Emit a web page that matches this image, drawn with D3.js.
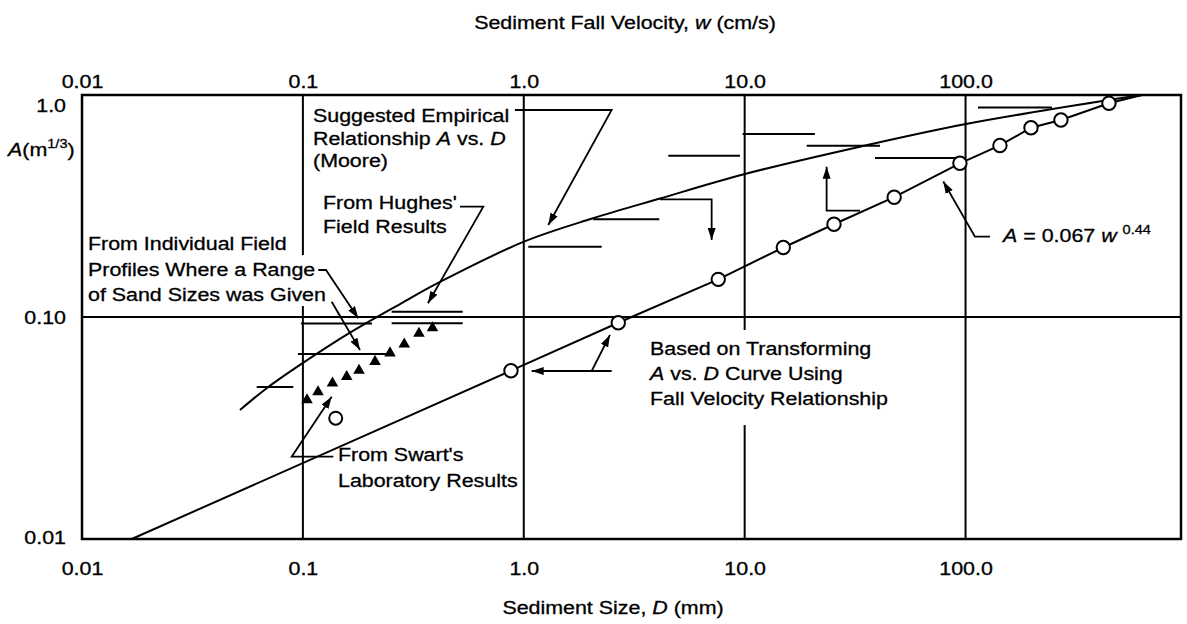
<!DOCTYPE html>
<html>
<head>
<meta charset="utf-8">
<script src="https://cdn.jsdelivr.net/npm/d3@7"></script>
<style>
  html, body { margin: 0; padding: 0; background: #fff; }
  svg text { font-family: "Liberation Sans", Arial, Helvetica, sans-serif; fill: #000; stroke: #000; stroke-width: 0.3px; white-space: pre; }
</style>
</head>
<body>
<svg id="chart" width="1187" height="624"></svg>
<script>
// ---------- Axis ticks ----------
const sizeTicks = [0.01, 0.1, 1, 10, 100];
const sizeTickLabels = ["0.01", "0.1", "1.0", "10.0", "100.0"];
const velocityTicks = [0.01, 0.1, 1, 10, 100];
const velocityTickLabels = ["0.01", "0.1", "1.0", "10.0", "100.0"];
const aTicks = [0.01, 0.1, 1];
const aTickLabels = ["0.01", "0.10", "1.0"];

// ---------- Suggested empirical relationship A vs. D (Moore) ----------
const mooreD = [0.0519, 0.0688, 0.1001, 0.1634, 0.2752, 0.4175, 1.002, 2.057, 4.136, 10.03, 33.27, 100.4, 445.8, 629];
const mooreA = [0.0381, 0.0479, 0.0621, 0.0850, 0.1144, 0.1438, 0.2184, 0.2783, 0.3418, 0.4407, 0.5850, 0.7401, 0.9495, 1.0];

// ---------- A vs. D transformed with the fall velocity relationship ----------
const transformD = [0.875, 2.678, 7.595, 14.96, 25.37, 47.52, 94.3, 143.1, 197.8, 270.3, 445.8];
const transformA = [0.0573, 0.0942, 0.1478, 0.2056, 0.2616, 0.3464, 0.4924, 0.5924, 0.712, 0.772, 0.9176];
const transformStartD = 0.0168, transformStartA = 0.01;
const transformEndD = 629, transformEndA = 1.0;

// ---------- Swart's laboratory results ----------
const swartD = [0.1044, 0.1171, 0.1361, 0.1579, 0.1795, 0.2121, 0.2480, 0.2877, 0.3354, 0.3862];
const swartA = [0.0423, 0.0460, 0.0504, 0.0538, 0.0574, 0.0630, 0.0688, 0.0755, 0.0843, 0.0892];
const singleD = [0.1408];
const singleA = [0.0350];

// ---------- Individual field profiles (range of sand sizes) ----------
const profileLoD = [0.0618, 0.0950, 0.0980, 1.048, 2.063, 4.511, 9.79, 19.09, 38.9, 113.8];
const profileHiD = [0.0905, 0.2403, 0.2055, 2.253, 4.106, 9.52, 20.8, 40.98, 94.3, 246.1];
const profileA   = [0.0484, 0.0681, 0.0935, 0.2074, 0.2755, 0.5328, 0.6674, 0.5909, 0.5203, 0.8784];

// ---------- Hughes' field results ----------
const hughesLoD = [0.2523, 0.2523];
const hughesHiD = [0.529, 0.529];
const hughesA   = [0.1056, 0.0937];

// ---------- Leader lines (D, A); the last point carries the arrowhead ----------
const mooreLeader      = [[0.912, 0.856], [2.50, 0.856], [1.291, 0.2597]];
const hughesLeader     = [[0.5143, 0.3139], [0.6557, 0.3139], [0.3684, 0.1153]];
const profileLeaderA   = [[0.1174, 0.1628], [0.1272, 0.1628], [0.1781, 0.0987]];
const profileLeaderB   = [[0.1350, 0.1172], [0.1814, 0.0710]];
const swartLeader      = [[0.1373, 0.02348], [0.0890, 0.02348], [0.1350, 0.04375]];
const transformLeaderA = [[2.50, 0.05711], [1.086, 0.05711]];
const transformLeaderB = [[2.03, 0.05711], [2.456, 0.0830]];
const formulaLeader    = [[128.9, 0.2300], [110.3, 0.2300], [79.3, 0.4077]];
const stepDown         = [[4.136, 0.3390], [7.089, 0.3390], [7.089, 0.2222]];
const stepUp           = [[33.27, 0.3012], [23.50, 0.3012], [23.50, 0.4753]];

// ---------- Grid lines (broken where labels sit) ----------
const gridVD    = [0.1, 0.1, 1, 10, 10, 100];
const gridVTopA = [1, 0.112, 1, 1, 0.0326, 1];
const gridVBotA = [0.19, 0.01, 0.01, 0.0874, 0.01, 0.01];
const gridHA    = [0.1];

// ---------- Layout ----------
const FS = 18, SX = 1.19;
const svg = d3.select("#chart");
const plotLeft = 82, plotRight = 1181, plotTop = 95, plotBottom = 539;

const x = d3.scaleLog().domain([0.01, 945]).range([plotLeft, plotRight]);
const w = d3.scaleLog().domain([0.01, 945]).range([plotLeft, plotRight]);
const y = d3.scaleLog().domain([0.01, 1]).range([plotBottom, plotTop]);

const defs = svg.append("defs");
defs.append("marker")
  .attr("id", "arrow").attr("markerUnits", "userSpaceOnUse")
  .attr("markerWidth", 13).attr("markerHeight", 9)
  .attr("refX", 12).attr("refY", 4.5).attr("orient", "auto")
  .append("path").attr("d", "M0,0.5 L12,4.5 L0,8.5 Z").attr("fill", "#000");

// grid
const grid = svg.append("g").attr("stroke", "#000").attr("stroke-width", 2);
grid.selectAll("line.v").data(gridVD).join("line").attr("class", "v")
  .attr("x1", d => x(d)).attr("x2", d => x(d))
  .attr("y1", (d, i) => y(gridVTopA[i])).attr("y2", (d, i) => y(gridVBotA[i]));
grid.selectAll("line.h").data(gridHA).join("line").attr("class", "h")
  .attr("x1", plotLeft).attr("x2", plotRight)
  .attr("y1", d => y(d)).attr("y2", d => y(d));

// frame
svg.append("rect").attr("x", plotLeft).attr("y", plotTop)
  .attr("width", plotRight - plotLeft).attr("height", plotBottom - plotTop)
  .attr("fill", "none").attr("stroke", "#000").attr("stroke-width", 2.5);

// axes
function styleAxis(g) {
  g.select(".domain").remove();
  g.selectAll(".tick line").remove();
  g.attr("font-family", null).attr("font-size", null);
  g.selectAll("text").style("font-size", FS + "px").attr("fill", "#000");
}
const bottomAxis = svg.append("g").attr("transform", `translate(0,${plotBottom})`)
  .call(d3.axisBottom(x).tickValues(sizeTicks).tickSize(0)
    .tickFormat((d, i) => sizeTickLabels[i]));
styleAxis(bottomAxis);
bottomAxis.selectAll("text").attr("y", 36).attr("dy", 0).attr("transform", `scale(${SX},1)`);

const topAxis = svg.append("g").attr("transform", `translate(0,${plotTop})`)
  .call(d3.axisTop(w).tickValues(velocityTicks).tickSize(0)
    .tickFormat((d, i) => velocityTickLabels[i]));
styleAxis(topAxis);
topAxis.selectAll("text").attr("y", -7).attr("dy", 0).attr("transform", `scale(${SX},1)`);

const leftAxis = svg.append("g").attr("transform", `translate(${plotLeft},0)`)
  .call(d3.axisLeft(y).tickValues(aTicks).tickSize(0)
    .tickFormat((d, i) => aTickLabels[i]));
styleAxis(leftAxis);
leftAxis.selectAll("text").attr("x", 0).attr("dy", 0)
  .attr("y", d => d === 1 ? 16.5 : (d === 0.1 ? 6.5 : 4.5))
  .attr("transform", `translate(-16,0) scale(${SX},1)`);

// text helper: segments of {t, i (italic), sup (superscript)}
function label(px, py, segs, anchor, size) {
  const fs = size || FS;
  const t = svg.append("text")
    .attr("transform", `translate(${px},${py}) scale(${SX},1)`)
    .attr("text-anchor", anchor || "start")
    .style("font-size", fs + "px");
  let raised = false;
  segs.forEach(s => {
    const ts = t.append("tspan").text(s.t);
    if (s.i) ts.style("font-style", "italic");
    if (s.sup && !raised) { ts.attr("dy", -8).style("font-size", (fs * 0.68) + "px"); raised = true; }
    else if (!s.sup && raised) { ts.attr("dy", 8); raised = false; }
  });
  return t;
}

// axis titles
label(625, 28.5, [{t: "Sediment Fall Velocity, "}, {t: "w", i: true}, {t: " (cm/s)"}], "middle");
label(613, 614, [{t: "Sediment Size, "}, {t: "D", i: true}, {t: " (mm)"}], "middle");
label(8, 156, [{t: "A", i: true}, {t: "(m"}, {t: "1/3", sup: true}, {t: ")"}], "start");

// curves
const mooreCurve = mooreD.map((d, i) => [d, mooreA[i]]);
svg.append("path").datum(mooreCurve)
  .attr("d", d3.line().x(d => x(d[0])).y(d => y(d[1])).curve(d3.curveCatmullRom.alpha(0.5)))
  .attr("fill", "none").attr("stroke", "#000").attr("stroke-width", 2);

const transformLine = [[transformStartD, transformStartA]]
  .concat(transformD.map((d, i) => [d, transformA[i]]))
  .concat([[transformEndD, transformEndA]]);
svg.append("path").datum(transformLine)
  .attr("d", d3.line().x(d => x(d[0])).y(d => y(d[1])))
  .attr("fill", "none").attr("stroke", "#000").attr("stroke-width", 2);

// field range segments
const segs = svg.append("g").attr("stroke", "#000").attr("stroke-width", 2);
segs.selectAll("line.p").data(profileA).join("line").attr("class", "p")
  .attr("x1", (d, i) => x(profileLoD[i])).attr("x2", (d, i) => x(profileHiD[i]))
  .attr("y1", d => y(d)).attr("y2", d => y(d));
segs.selectAll("line.hg").data(hughesA).join("line").attr("class", "hg")
  .attr("x1", (d, i) => x(hughesLoD[i])).attr("x2", (d, i) => x(hughesHiD[i]))
  .attr("y1", d => y(d)).attr("y2", d => y(d));

// leader lines
const leaders = [mooreLeader, hughesLeader, profileLeaderA, profileLeaderB, swartLeader,
  transformLeaderA, transformLeaderB, formulaLeader, stepDown, stepUp];
const plain = d3.line().x(d => x(d[0])).y(d => y(d[1]));
leaders.forEach(pts => {
  svg.append("path").attr("d", plain(pts))
    .attr("fill", "none").attr("stroke", "#000").attr("stroke-width", 1.8)
    .attr("marker-end", "url(#arrow)");
});

// markers
svg.append("g").selectAll("path").data(swartD).join("path")
  .attr("transform", (d, i) => `translate(${x(d)},${y(swartA[i])})`)
  .attr("d", d3.symbol().type(d3.symbolTriangle).size(58))
  .attr("fill", "#000");

svg.append("g").selectAll("circle").data(transformD).join("circle")
  .attr("cx", d => x(d)).attr("cy", (d, i) => y(transformA[i])).attr("r", 6.7)
  .attr("fill", "#fff").attr("stroke", "#000").attr("stroke-width", 2);

svg.append("g").selectAll("circle").data(singleD).join("circle")
  .attr("cx", d => x(d)).attr("cy", (d, i) => y(singleA[i])).attr("r", 6.5)
  .attr("fill", "#fff").attr("stroke", "#000").attr("stroke-width", 2);

// annotations
function block(px, py, gap, lines) {
  lines.forEach((ln, k) => label(px, py + k * gap, ln, "start"));
}
block(313, 122, 22.5, [
  [{t: "Suggested Empirical"}],
  [{t: "Relationship "}, {t: "A", i: true}, {t: " vs. "}, {t: "D", i: true}],
  [{t: "(Moore)"}]
]);
block(323, 209.3, 24, [
  [{t: "From Hughes'"}],
  [{t: "Field Results"}]
]);
block(88, 250, 25.5, [
  [{t: "From Individual Field"}],
  [{t: "Profiles Where a Range"}],
  [{t: "of Sand Sizes was Given"}]
]);
block(338, 460.7, 26, [
  [{t: "From Swart's"}],
  [{t: "Laboratory Results"}]
]);
block(650, 355, 25, [
  [{t: "Based on Transforming"}],
  [{t: "A", i: true}, {t: " vs. "}, {t: "D", i: true}, {t: " Curve Using"}],
  [{t: "Fall Velocity Relationship"}]
]);
label(1003, 241.7, [{t: "A", i: true}, {t: " = 0.067 "}, {t: "w", i: true}, {t: " "}, {t: "0.44", sup: true}], "start");
</script>
</body>
</html>
